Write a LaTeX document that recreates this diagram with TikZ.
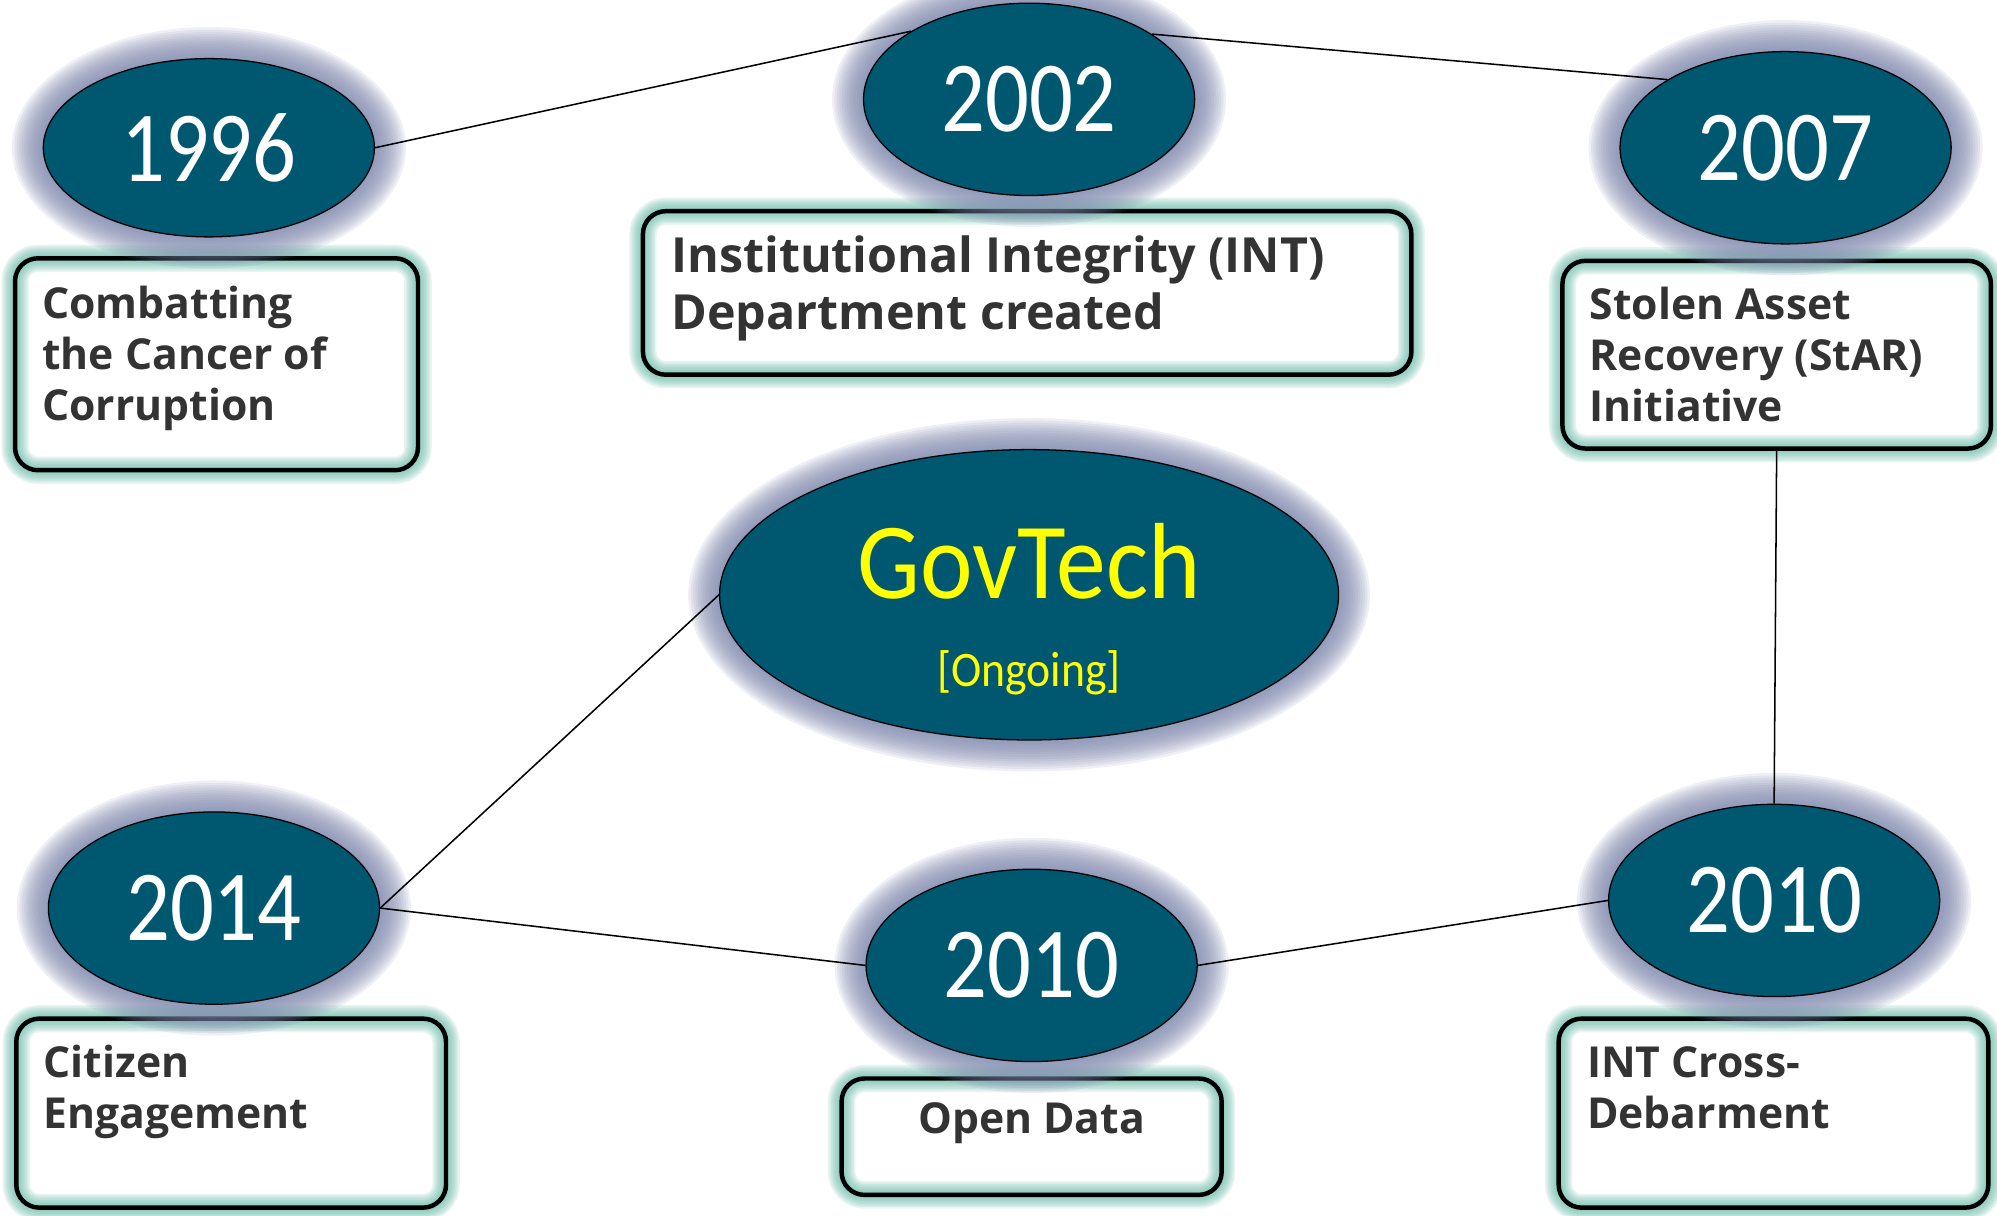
\documentclass[tikz,border=0pt]{standalone}
\usepackage{fontspec}
\setmainfont{Open Sans}
\newfontfamily\yearfont{Carlito}[FakeStretch=0.86]
\newfontfamily\govfont{Carlito}[FakeStretch=0.92]
\usetikzlibrary{shapes.geometric}
\pgfdeclarelayer{boxes}
\pgfdeclarelayer{halo}
\pgfsetlayers{boxes,halo,main}
\definecolor{ellfill}{RGB}{0,88,112}
\definecolor{halocol}{RGB}{128,138,175}
\definecolor{glowcol}{RGB}{100,185,165}
\definecolor{txtgrey}{RGB}{51,51,51}
\definecolor{govyellow}{RGB}{255,255,0}
\tikzset{
  yearell/.style={ellipse, draw=black, line width=1pt, fill=ellfill, text=white, inner sep=0pt,
    minimum width=260pt, minimum height=151pt, font=\yearfont\fontsize{79}{79}\selectfont},
  boxfill/.style={rectangle, fill=white, rounded corners=18pt, inner sep=0pt},
  boxline/.style={draw=black, line width=3.5pt, rounded corners=18pt},
  boxtxt/.style={anchor=base west, inner sep=0pt, text=txtgrey, font=\bfseries\fontsize{33.5}{40}\selectfont},
  link/.style={draw=black, line width=1.2pt},
  govtext/.style={anchor=base, inner sep=0pt, text=govyellow},
}
\newcommand\drawhalo[3]{%
  \foreach \i in {0,...,13}{%
    \fill[halocol, opacity=0.12] (#1.center) ellipse [x radius={#2+1.9*\i}, y radius={#3+1.9*\i}];}}
\newcommand\drawglow[1]{%
  \foreach \i in {1,...,9}{%
    \draw[glowcol, opacity=0.13, line width={2.4*\i pt}, rounded corners=18pt] (#1.north west) rectangle (#1.south east);}%
  \draw[boxline] (#1.north west) rectangle (#1.south east);}
\begin{document}
\begin{tikzpicture}[x=1pt,y=-1pt]
\useasboundingbox (0,0) rectangle (1568,954);

% ellipses
\node[yearell, minimum height=140pt] (e1996) at (164,116) {1996};
\node[yearell] (e2002) at (808,78) {2002};
\node[yearell] (e2007) at (1402,116) {2007};
\node[yearell] (e2014) at (168,713) {2014};
\node[yearell] (e2010m) at (810,758) {2010};
\node[yearell] (e2010r) at (1393,707) {2010};
\node[ellipse, draw=black, line width=1pt, fill=ellfill, inner sep=0pt, minimum width=486pt, minimum height=228pt] (egov) at (808,467) {};
\node[govtext, font=\govfont\fontsize{85}{85}\selectfont] (govtxt) at (808,470) {GovTech};
\node[govtext, font=\govfont\fontsize{39}{39}\selectfont] (ongoing) at (808,539) {[Ongoing]};

% boxes
\begin{pgfonlayer}{boxes}
\fill[white] (0,0) rectangle (1568,954);
\node[boxfill, minimum width=316pt, minimum height=166pt] (b1) at (170,286) {};
\node[boxfill, minimum width=603pt, minimum height=128pt] (b2) at (806.5,230) {};
\node[boxfill, minimum width=336pt, minimum height=147pt] (b3) at (1395,278.5) {};
\node[boxfill, minimum width=337pt, minimum height=148pt] (b4) at (181.5,874) {};
\node[boxfill, minimum width=298pt, minimum height=91pt] (b5) at (810,892.5) {};
\node[boxfill, minimum width=337pt, minimum height=148pt] (b6) at (1392.5,874) {};
\drawglow{b1}
\drawglow{b2}
\drawglow{b3}
\drawglow{b4}
\drawglow{b5}
\drawglow{b6}
\end{pgfonlayer}

% halos
\begin{pgfonlayer}{halo}
\drawhalo{e1996}{130}{70}
\drawhalo{e2002}{130}{75.5}
\drawhalo{e2007}{130}{75.5}
\drawhalo{e2014}{130}{75.5}
\drawhalo{e2010m}{130}{75.5}
\drawhalo{e2010r}{130}{75.5}
\drawhalo{egov}{243}{114}
\end{pgfonlayer}

% box texts
\node[boxtxt] (t1) at (33,250) {\vtop{\hbox{Combatting}\hbox{the Cancer of}\hbox{Corruption}}};
\node[boxtxt, font=\bfseries\fontsize{38}{45}\selectfont] (t2) at (527,214) {\vtop{\hbox{Institutional Integrity (INT)}\hbox{Department created}}};
\node[boxtxt] (t3) at (1248,251) {\vtop{\hbox{Stolen Asset}\hbox{Recovery (StAR)}\hbox{Initiative}}};
\node[boxtxt] (t4) at (34,846) {\vtop{\hbox{Citizen}\hbox{Engagement}}};
\node[boxtxt, anchor=base] (t5) at (810,890) {Open Data};
\node[boxtxt] (t6) at (1246,846) {\vtop{\hbox{INT Cross-}\hbox{Debarment}}};

% connectors
\draw[link] (e1996.east) -- (e2002.150);
\draw[link] (e2002.28) -- (e2007.150);
\draw[link] (b3.south) -- (e2010r.north);
\draw[link] (e2010r.west) -- (e2010m.east);
\draw[link] (e2010m.west) -- (e2014.east);
\draw[link] (e2014.east) -- (egov.west);
\end{tikzpicture}
\end{document}
